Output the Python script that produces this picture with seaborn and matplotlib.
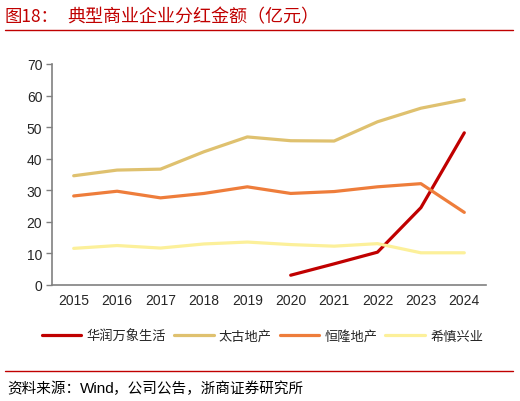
import pandas as pd
import numpy as np
import matplotlib
matplotlib.use("Agg")
import matplotlib.pyplot as plt
import seaborn as sns

# 数据（亿元）
years = ["2015", "2016", "2017", "2018", "2019", "2020", "2021", "2022", "2023", "2024"]
huarun = [np.nan, np.nan, np.nan, np.nan, np.nan, 3.1, 6.7, 10.4, 24.5, 48.2]
taigu = [34.6, 36.4, 36.7, 42.2, 46.9, 45.7, 45.6, 51.7, 56.0, 58.7]
henglong = [28.2, 29.7, 27.6, 29.0, 31.1, 29.0, 29.6, 31.1, 32.1, 23.0]
xishen = [11.6, 12.5, 11.7, 13.0, 13.6, 12.8, 12.3, 13.1, 10.2, 10.2]
names = ["华润万象生活", "太古地产", "恒隆地产", "希慎兴业"]
colors = ["#C00000", "#DFC16F", "#EE7D3B", "#FCF09A"]

df = pd.DataFrame({"年份": years, names[0]: huarun, names[1]: taigu,
                   names[2]: henglong, names[3]: xishen})
long_df = df.melt(id_vars="年份", var_name="公司", value_name="分红").dropna()
long_df["x"] = long_df["年份"].map({y: i for i, y in enumerate(years)})

sns.set_style("white")
plt.rcParams['font.family'] = ['Noto Sans CJK SC', 'DejaVu Sans']

fig = plt.figure(figsize=(5.2, 4.02), dpi=100)
ax = fig.add_axes([52 / 520, (402 - 286) / 402, (486 - 52) / 520, (286 - 65) / 402])

sns.lineplot(data=long_df, x="x", y="分红", hue="公司", hue_order=names,
             palette=colors, linewidth=2.3, ax=ax)

ax.set_xlim(-0.5, 9.5)
ax.set_ylim(0, 70)
ax.set_yticks(range(0, 71, 10))
ax.set_xticks(range(10))
ax.set_xticklabels(years, family="Liberation Sans", fontsize=10)
ax.set_xticks(np.arange(-0.5, 10, 1), minor=True)
for lab in ax.get_yticklabels():
    lab.set_family("Liberation Sans")
    lab.set_fontsize(10)
ax.tick_params(axis="x", which="major", length=0, pad=6)
ax.tick_params(axis="x", which="minor", length=4, color="#808080", width=1, direction="out")
ax.tick_params(axis="y", length=4, color="#808080", width=1, direction="out", left=True, pad=3)
ax.set_xlabel("")
ax.set_ylabel("")
for s in ["top", "right"]:
    ax.spines[s].set_visible(False)
for s in ["left", "bottom"]:
    ax.spines[s].set_color("#808080")
    ax.spines[s].set_linewidth(1.2)

ax.legend(loc="center", bbox_to_anchor=(0.485, -51 / 221), ncol=4, frameon=False,
          prop={"size": 9.5, "weight": "light"}, handlelength=3.0, handletextpad=0.4,
          columnspacing=0.6, borderaxespad=0)

# 标题和来源
fig.text(5 / 520, 1 - 17 / 402, "图18：", color="#C00000", fontsize=12.5, va="center",
         fontweight="light")
fig.text(67 / 520, 1 - 17 / 402, "典型商业企业分红金额（亿元）", color="#C00000",
         fontsize=13, va="center", fontweight="light")
fig.add_artist(plt.Line2D([5 / 520, 513 / 520], [1 - 31 / 402, 1 - 31 / 402],
                          color="#C00000", linewidth=1))
fig.add_artist(plt.Line2D([5 / 520, 513 / 520], [1 - 372 / 402, 1 - 372 / 402],
                          color="#C00000", linewidth=1))
fig.text(7 / 520, 1 - 389 / 402, "资料来源：", fontsize=10.5, va="center",
         color="#000000", fontweight="light")
fig.text(80 / 520, 1 - 389 / 402, "Wind", fontsize=11, va="center",
         color="#000000", family="Liberation Sans")
fig.text(113 / 520, 1 - 389 / 402, "，公司公告，浙商证券研究所", fontsize=10.5, va="center",
         color="#000000", fontweight="light")

fig.savefig("out.png", dpi=100)
